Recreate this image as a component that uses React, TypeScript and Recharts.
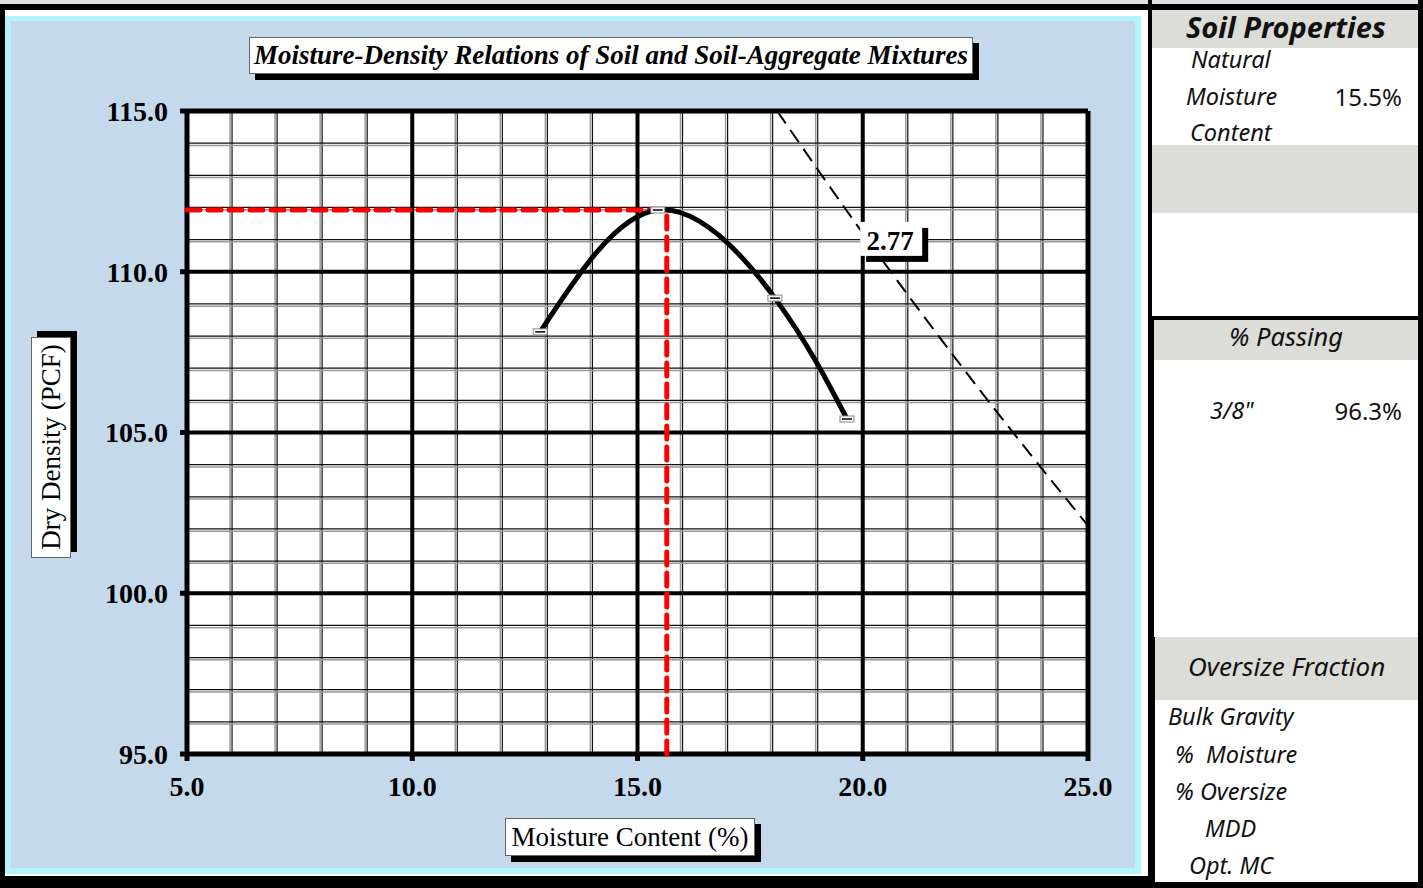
import React from "react"
import {
  LineChart,
  Line,
  XAxis,
  YAxis,
  CartesianGrid,
  ReferenceLine,
  ReferenceDot,
} from "recharts"

// compaction points
const moisture = [12.84, 15.45, 18.05, 19.65]
const density = [108.13, 111.92, 109.18, 105.42]

// zero air voids line (Gs = 2.77)
const zavMoisture = [18.1, 20.0, 22.5, 25.0]
const zavDensity = [115.0, 111.2, 106.5, 102.1]

const optMoisture = 15.65
const maxDensity = 111.92
const gsLabel = "2.77"

const xTicks = [5, 10, 15, 20, 25]
const yTicks = [95, 100, 105, 110, 115]
const minorX = [6, 7, 8, 9, 11, 12, 13, 14, 16, 17, 18, 19, 21, 22, 23, 24]
const minorY = [96, 97, 98, 99, 101, 102, 103, 104, 106, 107, 108, 109, 111, 112, 113, 114]

const curveData = moisture.map((m, i) => ({ moisture: m, density: density[i] }))
const zavData = zavMoisture.map((m, i) => ({ moisture: m, density: zavDensity[i] }))

const SERIF = "'Liberation Serif', 'Times New Roman', serif"
const SANS = "'Noto Sans', 'Open Sans', sans-serif"
const BLUE = "#c5d9ec"
const CYAN = "#b3f3fd"
const PANEL_GRAY = "#dcdcd8"

function PointMark(props: { cx?: number; cy?: number; index?: number }) {
  const { cx, cy, index } = props
  if (cx == null || cy == null) return null
  return (
    <g key={`pt-${index}`}>
      <rect x={cx - 7} y={cy - 3} width={14} height={6} fill="#fff" stroke="#888" strokeWidth={1} />
      <line x1={cx - 5} x2={cx + 5} y1={cy} y2={cy} stroke="#000" strokeWidth={1.5} />
    </g>
  )
}

function GsTag(props: { cx?: number; cy?: number }) {
  const { cx = 0, cy = 0 } = props
  return (
    <g>
      <rect x={cx - 29} y={cy - 13} width={62} height={34} fill="#000" />
      <rect x={cx - 35} y={cy - 19} width={62} height={34} fill="#fff" />
      <text
        x={cx - 5}
        y={cy + 9}
        textAnchor="middle"
        fontFamily={SERIF}
        fontWeight={700}
        fontSize={27}
        fill="#000"
      >
        {gsLabel}
      </text>
    </g>
  )
}

const tickFont = { fontSize: 28, fontWeight: 700, fontFamily: SERIF, fill: "#000" }

function PanelText({
  children,
  left,
  top,
  right,
  size = 23.5,
  bold = false,
}: {
  children: React.ReactNode
  left?: number
  top: number
  right?: number
  size?: number
  bold?: boolean
}) {
  return (
    <div
      style={{
        position: "absolute",
        left,
        right,
        top,
        fontFamily: SANS,
        fontStyle: right == null ? "italic" : "normal",
        fontWeight: bold ? 700 : 400,
        fontSize: size,
        lineHeight: 1,
        color: "#111",
        whiteSpace: "nowrap",
      }}
    >
      {children}
    </div>
  )
}

export default function App() {
  return (
    <div
      style={{
        position: "absolute",
        left: 0,
        top: 0,
        width: 1423,
        height: 888,
        background: "#000",
        overflow: "hidden",
      }}
    >
      {/* thin top strip */}
      <div style={{ position: "absolute", left: 0, top: 0, width: 1423, height: 4, background: "#e0e0dc" }} />

      {/* chart frame */}
      <div style={{ position: "absolute", left: 5, top: 10, width: 1143, height: 866, background: "#fff" }} />
      <div style={{ position: "absolute", left: 5, top: 16, width: 1136, height: 858, background: CYAN }} />
      <div style={{ position: "absolute", left: 11, top: 21, width: 1124, height: 847, background: BLUE }} />
      <div style={{ position: "absolute", left: 8, top: 876, width: 1134, height: 4, background: "#000" }} />

      <div style={{ position: "absolute", left: 0, top: 0 }}>
        <LineChart
          width={1140}
          height={888}
          margin={{ top: 111, right: 52, bottom: 94, left: 87 }}
        >
          <CartesianGrid stroke="none" fill="#fff" />
          <XAxis
            type="number"
            dataKey="moisture"
            domain={[5, 25]}
            ticks={xTicks}
            allowDataOverflow
            height={40}
            axisLine={false}
            tickLine={{ stroke: "#000", strokeWidth: 5 }}
            tickSize={7}
            tickMargin={15}
            tick={tickFont}
            tickFormatter={(v: number) => v.toFixed(1)}
          />
          <YAxis
            type="number"
            dataKey="density"
            domain={[95, 115]}
            ticks={yTicks}
            allowDataOverflow
            width={100}
            axisLine={false}
            tickLine={{ stroke: "#000", strokeWidth: 5 }}
            tickSize={7}
            tickMargin={12}
            tick={tickFont}
            tickFormatter={(v: number) => v.toFixed(1)}
          />

          {minorX.map((v) => (
            <ReferenceLine key={`gx-${v}`} x={v - 0.045} stroke="#999" strokeWidth={1.5} />
          ))}
          {minorX.map((v) => (
            <ReferenceLine key={`bx-${v}`} x={v} stroke="#111" strokeWidth={1.2} />
          ))}
          {minorY.map((v) => (
            <ReferenceLine key={`gy-${v}`} y={v - 0.07} stroke="#999" strokeWidth={1.5} />
          ))}
          {minorY.map((v) => (
            <ReferenceLine key={`by-${v}`} y={v} stroke="#111" strokeWidth={1.2} />
          ))}
          {xTicks.map((v) => (
            <ReferenceLine key={`mx-${v}`} x={v} stroke="#000" strokeWidth={v === 5 || v === 25 ? 5 : 4} />
          ))}
          {yTicks.map((v) => (
            <ReferenceLine key={`my-${v}`} y={v} stroke="#000" strokeWidth={v === 95 || v === 115 ? 5 : 4} />
          ))}

          <Line
            data={zavData}
            dataKey="density"
            type="monotone"
            stroke="#000"
            strokeWidth={2}
            strokeDasharray="15 8"
            dot={false}
            activeDot={false}
            isAnimationActive={false}
          />

          <ReferenceLine
            segment={[
              { x: 5, y: maxDensity },
              { x: optMoisture, y: maxDensity },
            ]}
            stroke="#ff0000"
            strokeWidth={5}
            strokeDasharray="13 8"
            strokeLinecap="round"
          />
          <ReferenceLine
            segment={[
              { x: optMoisture, y: 95 },
              { x: optMoisture, y: maxDensity },
            ]}
            stroke="#ff0000"
            strokeWidth={5}
            strokeDasharray="13 8"
            strokeLinecap="round"
          />

          <Line
            data={curveData}
            dataKey="density"
            type="natural"
            stroke="#000"
            strokeWidth={5}
            dot={<PointMark />}
            activeDot={false}
            isAnimationActive={false}
          />

          <ReferenceDot x={20.72} y={110.96} r={0} shape={<GsTag />} />
        </LineChart>
      </div>

      {/* title box */}
      <div
        style={{
          position: "absolute",
          left: 249,
          top: 37,
          width: 722,
          height: 35,
          background: "#fff",
          border: "1px solid #666",
          boxShadow: "6px 6px 0 #000",
          fontFamily: SERIF,
          fontStyle: "italic",
          fontWeight: 700,
          fontSize: 27,
          lineHeight: "35px",
          textAlign: "center",
          whiteSpace: "nowrap",
        }}
      >
        Moisture-Density Relations of Soil and Soil-Aggregate Mixtures
      </div>

      {/* y axis title */}
      <div
        style={{
          position: "absolute",
          left: 31,
          top: 337,
          width: 38,
          height: 219,
          background: "#fff",
          border: "1px solid #666",
          boxShadow: "6px -6px 0 #000",
        }}
      >
        <div
          style={{
            position: "absolute",
            left: 19,
            top: 109,
            transform: "translate(-50%, -50%) rotate(-90deg)",
            fontFamily: SERIF,
            fontSize: 27,
            whiteSpace: "nowrap",
            lineHeight: 1,
          }}
        >
          Dry Density (PCF)
        </div>
      </div>

      {/* x axis title */}
      <div
        style={{
          position: "absolute",
          left: 505,
          top: 818,
          width: 248,
          height: 36,
          background: "#fff",
          border: "1px solid #666",
          boxShadow: "6px 6px 0 #000",
          fontFamily: SERIF,
          fontSize: 27,
          lineHeight: "36px",
          textAlign: "center",
          whiteSpace: "nowrap",
        }}
      >
        Moisture Content (%)
      </div>

      {/* right panel */}
      <div style={{ position: "absolute", left: 1152, top: 10, width: 1266, height: 872, background: "#fff" }} />
      <div style={{ position: "absolute", left: 1152, top: 10, width: 271, height: 38, background: PANEL_GRAY }} />
      <PanelText left={1186} top={12} size={29} bold>
        Soil Properties
      </PanelText>
      <PanelText left={1191} top={48}>Natural</PanelText>
      <PanelText left={1186} top={85}>Moisture</PanelText>
      <PanelText right={21} top={85} size={24}>15.5%</PanelText>
      <PanelText left={1190} top={121}>Content</PanelText>
      <div style={{ position: "absolute", left: 1152, top: 145, width: 271, height: 68, background: PANEL_GRAY }} />

      <div style={{ position: "absolute", left: 1148, top: 316, width: 275, height: 4, background: "#000" }} />
      <div style={{ position: "absolute", left: 1150, top: 316, width: 4, height: 321, background: "#000" }} />
      <div style={{ position: "absolute", left: 1154, top: 320, width: 269, height: 40, background: PANEL_GRAY }} />
      <PanelText left={1229} top={324} size={25.5}>% Passing</PanelText>
      <PanelText left={1210} top={399}>3/8"</PanelText>
      <PanelText right={21} top={399} size={24}>96.3%</PanelText>

      <div style={{ position: "absolute", left: 1148, top: 637, width: 7, height: 251, background: "#000" }} />
      <div style={{ position: "absolute", left: 1155, top: 637, width: 268, height: 63, background: PANEL_GRAY }} />
      <PanelText left={1188} top={653} size={26}>
        Oversize Fraction
      </PanelText>
      <PanelText left={1168} top={705}>Bulk Gravity</PanelText>
      <PanelText left={1175} top={743}>% &nbsp;Moisture</PanelText>
      <PanelText left={1175} top={780}>% Oversize</PanelText>
      <PanelText left={1205} top={817}>MDD</PanelText>
      <PanelText left={1189} top={854}>Opt. MC</PanelText>

      <div style={{ position: "absolute", left: 1418, top: 0, width: 5, height: 888, background: "#000" }} />
      <div style={{ position: "absolute", left: 1148, top: 0, width: 4, height: 888, background: "#000" }} />
    </div>
  )
}
